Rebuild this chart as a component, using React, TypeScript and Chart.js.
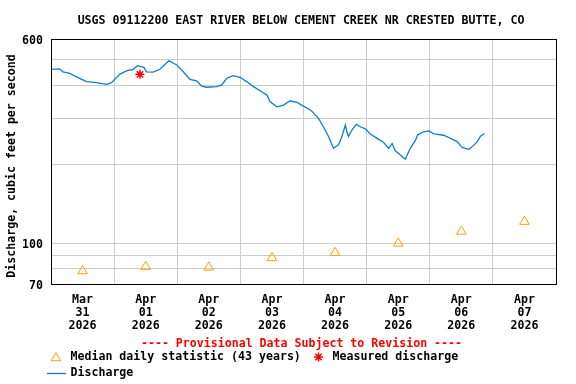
import React, { useEffect, useRef } from "react";
import { Chart, registerables } from "chart.js";

Chart.register(...registerables);

const TITLE = "USGS 09112200 EAST RIVER BELOW CEMENT CREEK NR CRESTED BUTTE, CO";
const Y_TITLE = "Discharge, cubic feet per second";
const PROVISIONAL = "---- Provisional Data Subject to Revision ----";

// x axis: hours since Mar 31 2026 00:00
const dayMonths = ["Mar", "Apr", "Apr", "Apr", "Apr", "Apr", "Apr", "Apr"];
const dayNums = ["31", "01", "02", "03", "04", "05", "06", "07"];
const dayYear = "2026";

const yTicks = [70, 80, 90, 100, 200, 300, 400, 500, 600];
const yLabeled = [70, 100, 600];

// Discharge (time in hours, value cfs)
const dischargeHours = [
  0, 3.3, 4.6, 7.1, 10.9, 13.5, 17.3, 21.1, 23.0, 26.2, 28.7, 31.2, 32.9, 35.3, 36.3, 38.9,
  41.4, 44.8, 47.8, 50.3, 52.8, 55.4, 57.3, 59.2, 63.0, 64.9, 66.8, 69.3, 71.9, 74.4, 77.0,
  79.5, 82.1, 83.3, 85.9, 88.4, 90.9, 93.5, 96.0, 98.6, 99.8, 101.7, 103.6, 105.5, 107.4,
  109.3, 110.6, 111.9, 112.5, 113.1, 114.4, 116.1, 117.6, 119.5, 121.4, 124.0, 126.5, 128.4,
  129.7, 130.9, 132.8, 134.7, 136.6, 138.6, 139.4, 141.7, 143.6, 145.5, 149.3, 151.9, 154.4,
  156.3, 158.9, 160.5, 162.1, 163.3, 164.8,
];
const dischargeValues = [
  460, 462, 450, 444, 425, 413, 409, 403, 409, 441, 454, 460, 475, 468, 450, 449,
  460, 496, 478, 450, 421, 416, 397, 393, 395, 401, 425, 435, 429, 413, 395,
  381, 367, 346, 331, 336, 349, 344, 333, 322, 314, 299, 278, 255, 230,
  237, 255, 282, 266, 255, 270, 284, 278, 273, 261, 251, 242, 230,
  240, 225, 217, 209, 230, 247, 259, 266, 268, 261, 258, 251, 244,
  232, 228, 235, 244, 256, 262,
];

// Median daily statistic at mid-day
const medianHours = [12, 36, 60, 84, 108, 132, 156, 180];
const medianValues = [78.5, 81.5, 81, 88, 92, 100, 111, 121];

// Measured discharge
const measuredHours = [33.8];
const measuredValues = [440];

const FONT = "'DejaVu Sans Mono', monospace";
const FONT_SIZE = 11.6;
const LINE_COLOR = "#0a7fd0";
const MEDIAN_COLOR = "#ffa000";
const GRID = "#cccccc";

const overlay = {
  id: "overlay",
  afterDraw(chart: any) {
    const { ctx, chartArea } = chart;
    ctx.save();
    ctx.strokeStyle = "#000";
    ctx.lineWidth = 1;
    ctx.strokeRect(
      Math.round(chartArea.left) + 0.5,
      Math.round(chartArea.top) + 0.5,
      Math.round(chartArea.right - chartArea.left),
      Math.round(chartArea.bottom - chartArea.top)
    );
    ctx.font = `bold ${FONT_SIZE}px ${FONT}`;
    ctx.fillStyle = "#000";
    ctx.textBaseline = "middle";
    ctx.textAlign = "center";
    ctx.fillText(TITLE, 301, 21);
    ctx.save();
    ctx.translate(12, 166);
    ctx.rotate(-Math.PI / 2);
    ctx.fillText(Y_TITLE, 0, 0);
    ctx.restore();
    ctx.fillStyle = "#ff0000";
    ctx.fillText(PROVISIONAL, 301.5, 343.5);
    ctx.textAlign = "left";
    ctx.fillStyle = "#000";
    ctx.fillText("Median daily statistic (43 years)", 70.5, 357);
    ctx.fillText("Measured discharge", 332.5, 357);
    ctx.fillText("Discharge", 70.5, 373);
    // legend symbols
    ctx.strokeStyle = MEDIAN_COLOR;
    ctx.lineWidth = 1;
    const r = 5.5;
    const cx = 56, cy = 358;
    ctx.beginPath();
    ctx.moveTo(cx, cy - r);
    ctx.lineTo(cx + r * Math.sin((2 * Math.PI) / 3), cy - r * Math.cos((2 * Math.PI) / 3));
    ctx.lineTo(cx + r * Math.sin((4 * Math.PI) / 3), cy - r * Math.cos((4 * Math.PI) / 3));
    ctx.closePath();
    ctx.stroke();
    ctx.strokeStyle = "#ff0000";
    ctx.lineWidth = 1.5;
    const sx = 318.5, sy = 357, sr = 4.5;
    ctx.beginPath();
    for (let i = 0; i < 4; i++) {
      const a = (i * Math.PI) / 4;
      ctx.moveTo(sx + sr * Math.cos(a), sy + sr * Math.sin(a));
      ctx.lineTo(sx - sr * Math.cos(a), sy - sr * Math.sin(a));
    }
    ctx.stroke();
    ctx.strokeStyle = LINE_COLOR;
    ctx.lineWidth = 1.3;
    ctx.beginPath();
    ctx.moveTo(47, 373.5);
    ctx.lineTo(66, 373.5);
    ctx.stroke();
    ctx.restore();
  },
};

export default function App() {
  const ref = useRef<HTMLCanvasElement>(null);
  useEffect(() => {
    document.body.style.margin = "0";
    const canvas = ref.current!;
    const chart = new Chart(canvas, {
      type: "scatter",
      data: {
        datasets: [
          {
            type: "line",
            label: "Discharge",
            data: dischargeHours.map((t, i) => ({ x: t, y: dischargeValues[i] })),
            borderColor: LINE_COLOR,
            borderWidth: 1.3,
            pointRadius: 0,
            tension: 0,
            fill: false,
          } as any,
          {
            label: "Median daily statistic (43 years)",
            data: medianHours.map((t, i) => ({ x: t, y: medianValues[i] })),
            pointStyle: "triangle",
            pointRadius: 5.5,
            borderColor: MEDIAN_COLOR,
            backgroundColor: "rgba(0,0,0,0)",
            borderWidth: 1,
          },
          {
            label: "Measured discharge",
            data: measuredHours.map((t, i) => ({ x: t, y: measuredValues[i] })),
            pointStyle: "star",
            pointRadius: 4.5,
            borderColor: "#ff0000",
            backgroundColor: "#ff0000",
            borderWidth: 1.5,
          },
        ],
      },
      options: {
        animation: false,
        responsive: false,
        devicePixelRatio: 1,
        layout: { padding: { top: 39, left: 0, right: 20, bottom: 0 } },
        plugins: { legend: { display: false }, tooltip: { enabled: false }, title: { display: false } },
        scales: {
          x: {
            type: "linear",
            min: 0,
            max: 192,
            afterBuildTicks: (scale: any) => {
              const t = [];
              for (let v = 0; v <= 192; v += 12) t.push({ value: v });
              scale.ticks = t;
            },
            afterFit: (scale: any) => {
              scale.height = 100;
            },
            border: { display: false },
            grid: {
              drawTicks: false,
              lineWidth: 1,
              color: (ctx: any) => {
                const v = ctx.tick ? ctx.tick.value : 0;
                return v % 24 === 0 && v > 0 && v < 192 ? GRID : "rgba(0,0,0,0)";
              },
            },
            ticks: {
              autoSkip: false,
              maxRotation: 0,
              minRotation: 0,
              padding: 10,
              color: "#000",
              font: { family: FONT, size: FONT_SIZE, weight: "bold", lineHeight: 1.1 },
              callback: (value: any) => {
                const v = Number(value);
                if (v % 24 !== 12) return "";
                const k = (v - 12) / 24;
                return [dayMonths[k], dayNums[k], dayYear];
              },
            },
          },
          y: {
            type: "logarithmic",
            min: 70,
            max: 600,
            afterBuildTicks: (scale: any) => {
              scale.ticks = yTicks.map((v) => ({ value: v }));
            },
            afterFit: (scale: any) => {
              scale.width = 51;
            },
            border: { display: false },
            grid: {
              drawTicks: false,
              lineWidth: 1,
              color: (ctx: any) => {
                const v = ctx.tick ? ctx.tick.value : 0;
                return v > 70 && v < 600 ? GRID : "rgba(0,0,0,0)";
              },
            },
            ticks: {
              autoSkip: false,
              padding: 8,
              labelOffset: 2,
              color: "#000",
              font: { family: FONT, size: FONT_SIZE, weight: "bold" },
              callback: (value: any) => (yLabeled.includes(Number(value)) ? String(value) : ""),
            },
          },
        },
      },
      plugins: [overlay],
    });
    return () => chart.destroy();
  }, []);
  return (
    <div style={{ width: 576, height: 384 }}>
      <canvas ref={ref} width={576} height={384} style={{ display: "block" }} />
    </div>
  );
}
